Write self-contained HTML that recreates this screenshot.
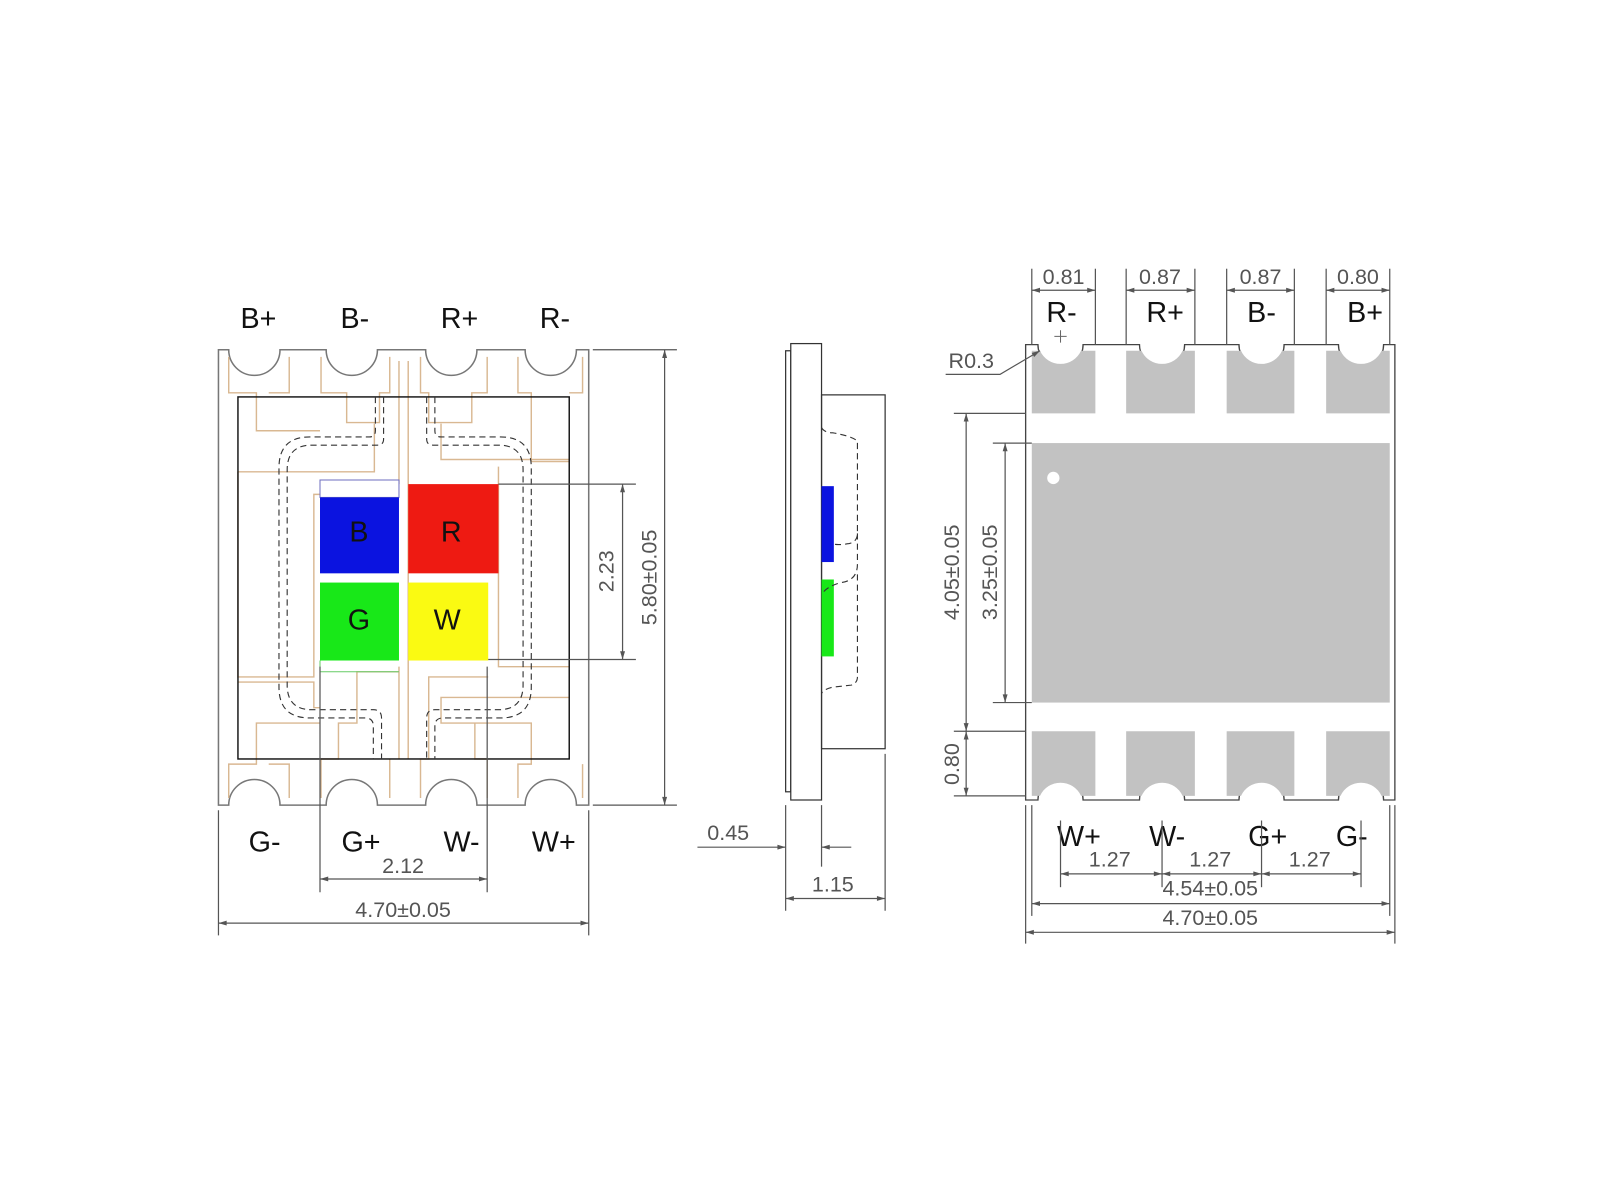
<!DOCTYPE html>
<html><head><meta charset="utf-8"><style>
html,body{margin:0;padding:0;background:#fff;width:1600px;height:1200px;overflow:hidden}
svg{display:block}
text{font-family:"Liberation Sans",Arial,sans-serif}
.pin{font-size:28px;fill:#111;text-anchor:middle}
.dim{font-size:21px;fill:#555;text-anchor:middle}
.dl{stroke:#555;stroke-width:1.2;fill:none}
.tan{stroke:#d9b892;stroke-width:1.4;fill:none}
.dash{stroke:#333;stroke-width:1.1;fill:none;stroke-dasharray:6 4}
</style></head><body>
<svg width="1600" height="1200" viewBox="0 0 1560 1170" xmlns="http://www.w3.org/2000/svg">
<defs>
<marker id="a" viewBox="0 0 10 10" refX="10" refY="5" markerWidth="12" markerHeight="8" orient="auto-start-reverse" markerUnits="userSpaceOnUse"><path d="M0,2 L10,5 L0,8 z" fill="#555"/></marker>
</defs>

<!-- ===== LEFT VIEW ===== -->
<g>
<!-- outer body with notches -->
<path d="M213,341 H223 A25,25 0 0 0 273,341 H318 A25,25 0 0 0 368,341 H415 A25,25 0 0 0 465,341 H512 A25,25 0 0 0 562,341 H574 V785 H562 A25,25 0 0 0 512,785 H465 A25,25 0 0 0 415,785 H368 A25,25 0 0 0 318,785 H273 A25,25 0 0 0 223,785 H213 Z" fill="none" stroke="#777" stroke-width="1.5"/>
<!-- tan pad outlines top -->
<path class="tan" d="M223,348 V383 H250 V420 H312 M282,348 V383 H262" />
<path class="tan" d="M313,348 V383 H338 V412 H370 V383 H380 V348" />
<path class="tan" d="M410,348 V383 H418 V412 H460 V383 H475 V348" />
<path class="tan" d="M505,348 V383 H518 V450 H555 M568,348 V383 H555" />
<path class="tan" d="M232,460 H365 V413 M232,460 V660 H306 V482 H373 V472" />
<path class="tan" d="M398,352 V740 M389,352 V472 M389,650 V740" />
<path class="tan" d="M430,413 V448 H555 M486,455 V650 H555" />
<!-- tan pad outlines bottom -->
<path class="tan" d="M223,778 V745 H250 V705 H312 M282,778 V745 H262" />
<path class="tan" d="M313,778 V740 H330 V705 H348 V655 H389 M380,778 V740" />
<path class="tan" d="M410,778 V740 H418 V660 H476 M475,778 V740 H463 V705" />
<path class="tan" d="M505,778 V745 H518 V705 H430 V680 H555 M568,778 V745" />
<path class="tan" d="M232,665 H306 V690 H312" />
<!-- inner black rect -->
<rect x="232" y="387" width="323" height="353" fill="none" stroke="#111" stroke-width="1.4"/>
<!-- dashed lens outlines -->
<path class="dash" d="M366,387 V420 Q366,426 360,426 H302 Q272,426 272,456 V670 Q272,700 302,700 H356 Q364,700 364,708 V740"/>
<path class="dash" d="M374,387 V428 Q374,434 368,434 H304 Q280,434 280,458 V668 Q280,692 304,692 H364 Q372,692 372,700 V740"/>
<path class="dash" d="M424,387 V420 Q424,426 430,426 H488 Q518,426 518,456 V670 Q518,700 488,700 H432 Q424,700 424,708 V740"/>
<path class="dash" d="M416,387 V428 Q416,434 422,434 H486 Q510,434 510,458 V668 Q510,692 486,692 H424 Q416,692 416,700 V740"/>
<!-- chips -->
<rect x="312" y="468" width="77" height="17" fill="#fff" stroke="#7070c0" stroke-width="1"/>
<rect x="312" y="485" width="77" height="74" fill="#0b13e0"/>
<rect x="398" y="472" width="88" height="87" fill="#ee1a12"/>
<rect x="312" y="568" width="77" height="76" fill="#18e818"/>
<rect x="398" y="568" width="78" height="76" fill="#fafa12"/>
<path d="M312,644 V655 H389" stroke="#6c6" stroke-width="1" fill="none"/>
<text x="350" y="528" class="pin" style="fill:#111">B</text>
<text x="440" y="528" class="pin">R</text>
<text x="350" y="614" class="pin">G</text>
<text x="436" y="614" class="pin">W</text>
<!-- labels -->
<text x="252" y="320" class="pin">B+</text>
<text x="346" y="320" class="pin">B-</text>
<text x="448" y="320" class="pin">R+</text>
<text x="541" y="320" class="pin">R-</text>
<text x="258" y="830" class="pin">G-</text>
<text x="352" y="830" class="pin">G+</text>
<text x="450" y="830" class="pin">W-</text>
<text x="540" y="830" class="pin">W+</text>
<!-- dims -->
<line class="dl" x1="578" y1="341" x2="660" y2="341"/>
<line class="dl" x1="578" y1="785" x2="660" y2="785"/>
<line class="dl" x1="648" y1="341" x2="648" y2="785" marker-start="url(#a)" marker-end="url(#a)"/>
<text class="dim" transform="translate(640,563) rotate(-90)">5.80±0.05</text>
<line class="dl" x1="486" y1="472" x2="620" y2="472"/>
<line class="dl" x1="476" y1="643" x2="620" y2="643"/>
<line class="dl" x1="607" y1="472" x2="607" y2="643" marker-start="url(#a)" marker-end="url(#a)"/>
<text class="dim" transform="translate(598,557) rotate(-90)">2.23</text>
<line class="dl" x1="312" y1="650" x2="312" y2="870"/>
<line class="dl" x1="475" y1="650" x2="475" y2="870"/>
<line class="dl" x1="312" y1="857" x2="475" y2="857" marker-start="url(#a)" marker-end="url(#a)"/>
<text class="dim" x="393" y="851">2.12</text>
<line class="dl" x1="213" y1="790" x2="213" y2="912"/>
<line class="dl" x1="574" y1="790" x2="574" y2="912"/>
<line class="dl" x1="213" y1="900" x2="574" y2="900" marker-start="url(#a)" marker-end="url(#a)"/>
<text class="dim" x="393" y="894">4.70±0.05</text>
</g>

<!-- ===== SIDE VIEW ===== -->
<g>
<rect x="766" y="342" width="5" height="430" fill="none" stroke="#333" stroke-width="1.2"/>
<rect x="771" y="335" width="30" height="445" fill="#fff" stroke="#333" stroke-width="1.2"/>
<rect x="801" y="385" width="62" height="345" fill="none" stroke="#333" stroke-width="1.2"/>
<rect x="801" y="474" width="12" height="74" fill="#0b13e0"/>
<rect x="801" y="565" width="12" height="75" fill="#18e818"/>
<path class="dash" d="M801,417 Q804,422 812,422 Q830,425 836,430 V520 Q836,528 828,530 Q815,532 812,530 M836,520 V550 Q836,566 820,568 Q805,572 801,580 M836,560 V660 Q836,666 830,668 L812,670 Q803,672 801,676"/>
<line class="dl" x1="766" y1="785" x2="766" y2="888"/>
<line class="dl" x1="801" y1="785" x2="801" y2="845"/>
<line class="dl" x1="863" y1="735" x2="863" y2="888"/>
<text class="dim" x="710" y="819">0.45</text>
<line class="dl" x1="680" y1="826" x2="766" y2="826" marker-end="url(#a)"/>
<line class="dl" x1="830" y1="826" x2="801" y2="826" marker-end="url(#a)"/>
<line class="dl" x1="766" y1="876" x2="863" y2="876" marker-start="url(#a)" marker-end="url(#a)"/>
<text class="dim" x="812" y="869">1.15</text>
</g>

<!-- ===== RIGHT VIEW ===== -->
<g>
<path d="M1000,336 H1012 A22,22 0 0 0 1056,336 H1111 A22,22 0 0 0 1155,336 H1208 A22,22 0 0 0 1252,336 H1305 A22,22 0 0 0 1349,336 H1360 V780 H1349 A22,22 0 0 0 1305,780 H1252 A22,22 0 0 0 1208,780 H1155 A22,22 0 0 0 1111,780 H1056 A22,22 0 0 0 1012,780 H1000 Z" fill="none" stroke="#444" stroke-width="1.3"/>
<g fill="#c2c2c2">
<path d="M1006,342 H1014 A22,22 0 0 0 1054,342 H1068 V403 H1006 Z"/>
<path d="M1098,342 H1113 A22,22 0 0 0 1153,342 H1165 V403 H1098 Z"/>
<path d="M1196,342 H1210 A22,22 0 0 0 1250,342 H1262 V403 H1196 Z"/>
<path d="M1293,342 H1307 A22,22 0 0 0 1347,342 H1355 V403 H1293 Z"/>
<rect x="1006" y="432" width="349" height="253"/>
<path d="M1006,713 H1068 V776 H1054 A22,22 0 0 0 1014,776 H1006 Z"/>
<path d="M1098,713 H1165 V776 H1153 A22,22 0 0 0 1113,776 H1098 Z"/>
<path d="M1196,713 H1262 V776 H1250 A22,22 0 0 0 1210,776 H1196 Z"/>
<path d="M1293,713 H1355 V776 H1347 A22,22 0 0 0 1307,776 H1293 Z"/>
</g>
<circle cx="1027" cy="466" r="6" fill="#fff"/>
<path d="M1034,322 V334 M1028,328 H1040" stroke="#666" stroke-width="1"/>
<!-- top labels -->
<text x="1035" y="314" class="pin">R-</text>
<text x="1136" y="314" class="pin">R+</text>
<text x="1230" y="314" class="pin">B-</text>
<text x="1331" y="314" class="pin">B+</text>
<g class="dl">
<line x1="1006" y1="262" x2="1006" y2="336"/><line x1="1068" y1="262" x2="1068" y2="336"/>
<line x1="1098" y1="262" x2="1098" y2="336"/><line x1="1165" y1="262" x2="1165" y2="336"/>
<line x1="1196" y1="262" x2="1196" y2="336"/><line x1="1262" y1="262" x2="1262" y2="336"/>
<line x1="1293" y1="262" x2="1293" y2="336"/><line x1="1355" y1="262" x2="1355" y2="336"/>
</g>
<line class="dl" x1="1006" y1="283" x2="1068" y2="283" marker-start="url(#a)" marker-end="url(#a)"/>
<line class="dl" x1="1098" y1="283" x2="1165" y2="283" marker-start="url(#a)" marker-end="url(#a)"/>
<line class="dl" x1="1196" y1="283" x2="1262" y2="283" marker-start="url(#a)" marker-end="url(#a)"/>
<line class="dl" x1="1293" y1="283" x2="1355" y2="283" marker-start="url(#a)" marker-end="url(#a)"/>
<text class="dim" x="1037" y="277">0.81</text>
<text class="dim" x="1131" y="277">0.87</text>
<text class="dim" x="1229" y="277">0.87</text>
<text class="dim" x="1324" y="277">0.80</text>
<text class="dim" x="947" y="359">R0.3</text>
<path class="dl" d="M922,365 H975 L1014,342" marker-end="url(#a)"/>
<!-- left dims -->
<line class="dl" x1="930" y1="403" x2="1000" y2="403"/>
<line class="dl" x1="930" y1="713" x2="1000" y2="713"/>
<line class="dl" x1="930" y1="776" x2="1000" y2="776"/>
<line class="dl" x1="968" y1="432" x2="1006" y2="432"/>
<line class="dl" x1="968" y1="685" x2="1006" y2="685"/>
<line class="dl" x1="942" y1="403" x2="942" y2="713" marker-start="url(#a)" marker-end="url(#a)"/>
<line class="dl" x1="942" y1="713" x2="942" y2="776" marker-start="url(#a)" marker-end="url(#a)"/>
<line class="dl" x1="980" y1="432" x2="980" y2="685" marker-start="url(#a)" marker-end="url(#a)"/>
<text class="dim" transform="translate(935,558) rotate(-90)">4.05±0.05</text>
<text class="dim" transform="translate(972,558) rotate(-90)">3.25±0.05</text>
<text class="dim" transform="translate(935,745) rotate(-90)">0.80</text>
<!-- bottom labels -->
<text x="1052" y="825" class="pin">W+</text>
<text x="1138" y="825" class="pin">W-</text>
<text x="1236" y="825" class="pin">G+</text>
<text x="1318" y="825" class="pin">G-</text>
<g class="dl">
<line x1="1034" y1="800" x2="1034" y2="865"/><line x1="1133" y1="800" x2="1133" y2="865"/>
<line x1="1230" y1="800" x2="1230" y2="865"/><line x1="1327" y1="800" x2="1327" y2="865"/>
<line x1="1006" y1="785" x2="1006" y2="893"/><line x1="1355" y1="785" x2="1355" y2="893"/>
<line x1="1000" y1="785" x2="1000" y2="920"/><line x1="1360" y1="785" x2="1360" y2="920"/>
</g>
<line class="dl" x1="1034" y1="852" x2="1133" y2="852" marker-start="url(#a)" marker-end="url(#a)"/>
<line class="dl" x1="1133" y1="852" x2="1230" y2="852" marker-start="url(#a)" marker-end="url(#a)"/>
<line class="dl" x1="1230" y1="852" x2="1327" y2="852" marker-start="url(#a)" marker-end="url(#a)"/>
<text class="dim" x="1082" y="845">1.27</text>
<text class="dim" x="1180" y="845">1.27</text>
<text class="dim" x="1277" y="845">1.27</text>
<line class="dl" x1="1006" y1="881" x2="1355" y2="881" marker-start="url(#a)" marker-end="url(#a)"/>
<text class="dim" x="1180" y="873">4.54±0.05</text>
<line class="dl" x1="1000" y1="909" x2="1360" y2="909" marker-start="url(#a)" marker-end="url(#a)"/>
<text class="dim" x="1180" y="902">4.70±0.05</text>
</g>
</svg>
</body></html>
